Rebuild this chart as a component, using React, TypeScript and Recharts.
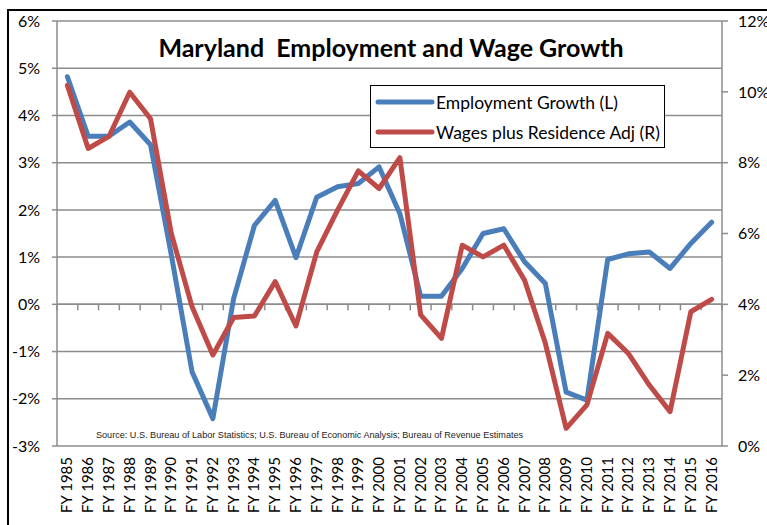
import React from 'react';
import { LineChart, Line, XAxis, YAxis, CartesianGrid, ReferenceLine, Legend } from 'recharts';

const years = [
  'FY 1985', 'FY 1986', 'FY 1987', 'FY 1988', 'FY 1989', 'FY 1990', 'FY 1991', 'FY 1992',
  'FY 1993', 'FY 1994', 'FY 1995', 'FY 1996', 'FY 1997', 'FY 1998', 'FY 1999', 'FY 2000',
  'FY 2001', 'FY 2002', 'FY 2003', 'FY 2004', 'FY 2005', 'FY 2006', 'FY 2007', 'FY 2008',
  'FY 2009', 'FY 2010', 'FY 2011', 'FY 2012', 'FY 2013', 'FY 2014', 'FY 2015', 'FY 2016',
];

const employmentGrowth = [
  4.82, 3.56, 3.56, 3.86, 3.38, 1.05, -1.43, -2.42,
  0.12, 1.67, 2.2, 0.99, 2.27, 2.49, 2.56, 2.91,
  1.92, 0.17, 0.17, 0.76, 1.5, 1.6, 0.9, 0.44,
  -1.86, -2.03, 0.95, 1.07, 1.11, 0.76, 1.29, 1.74,
];

const wagesResidenceAdj = [
  10.18, 8.4, 8.74, 9.99, 9.24, 6.0, 3.93, 2.57,
  3.63, 3.67, 4.64, 3.39, 5.48, 6.66, 7.77, 7.27,
  8.14, 3.7, 3.04, 5.67, 5.34, 5.67, 4.68, 2.9,
  0.5, 1.16, 3.18, 2.61, 1.72, 0.97, 3.79, 4.14,
];

const leftTicks = [-3, -2, -1, 0, 1, 2, 3, 4, 5, 6];
const rightTicks = [0, 2, 4, 6, 8, 10, 12];

const seriesNames = ['Employment Growth (L)', 'Wages plus Residence Adj (R)'];
const titleText = 'Maryland  Employment and Wage Growth';
const sourceText = 'Source: U.S. Bureau of Labor Statistics; U.S. Bureau of Economic Analysis; Bureau of Revenue Estimates';

const data = years.map((y, i) => ({
  year: y,
  emp: employmentGrowth[i],
  wage: wagesResidenceAdj[i],
}));

const FONT = 'Lato, "Open Sans", sans-serif';
const GRID = '#8c8c8c';
const BLUE = '#4a7ebb';
const RED = '#be4b48';

function XTick(props: any) {
  const { x, y, payload } = props;
  const cx = x - 1;
  return (
    <text
      x={cx}
      y={y}
      transform={`rotate(-90 ${cx} ${y})`}
      textAnchor="end"
      dominantBaseline="central"
      fontFamily={FONT}
      fontSize={15}
      fill="#000"
    >
      {payload.value}
    </text>
  );
}

function ZeroLine(props: any) {
  const { x1, y1, x2 } = props;
  const left = Math.min(x1, x2);
  const right = Math.max(x1, x2);
  const n = years.length;
  const step = (right - left) / n;
  const marks = [];
  for (let i = 0; i <= n; i++) {
    const x = left + i * step;
    marks.push(<line key={i} x1={x} x2={x} y1={y1} y2={y1 + 6} stroke={GRID} strokeWidth={1.5} />);
  }
  return (
    <g>
      <line x1={left} y1={y1} x2={right} y2={y1} stroke={GRID} strokeWidth={1.5} />
      {marks}
    </g>
  );
}

function LegendBox(props: any) {
  const colors = [BLUE, RED];
  return (
    <div
      style={{
        boxSizing: 'border-box',
        width: 295,
        height: 63,
        border: '1.5px solid #000',
        background: '#fff',
        paddingTop: 1,
        fontFamily: FONT,
        fontSize: 17.5,
        color: '#000',
      }}
    >
      {seriesNames.map((name, i) => (
        <div key={name} style={{ display: 'flex', alignItems: 'center', height: 30 }}>
          <svg width={65} height={10} style={{ flex: 'none' }}>
            <line x1={7} y1={5} x2={61} y2={5} stroke={colors[i]} strokeWidth={5} strokeLinecap="round" />
          </svg>
          <span style={{ whiteSpace: 'nowrap' }}>{name}</span>
        </div>
      ))}
    </div>
  );
}

export default function App() {
  return (
    <div style={{ position: 'fixed', left: 0, top: 0, width: 767, height: 525, overflow: 'hidden', background: '#fff' }}>
      <div
        style={{
          position: 'absolute',
          left: 7,
          top: 9,
          width: 820,
          height: 600,
          border: '2.5px solid #000',
          boxSizing: 'border-box',
        }}
      />
      <div style={{ position: 'absolute', left: 0, top: 0 }}>
        <LineChart width={800} height={560} data={data} margin={{ top: 21, right: 0, bottom: 0, left: 0 }}>
          <CartesianGrid yAxisId="left" vertical={false} stroke={GRID} strokeWidth={1.5} />
          <XAxis
            dataKey="year"
            height={114}
            axisLine={false}
            tickLine={false}
            tickSize={6}
            tickMargin={5}
            interval={0}
            padding={{ left: 10.39, right: 10.39 }}
            tick={<XTick />}
          />
          <YAxis
            yAxisId="left"
            orientation="left"
            width={57}
            domain={[-3, 6]}
            ticks={leftTicks}
            interval={0}
            tickFormatter={(v: number) => `${v}%`}
            axisLine={{ stroke: GRID, strokeWidth: 1.5 }}
            tickLine={{ stroke: GRID, strokeWidth: 1.5 }}
            tickSize={5}
            tickMargin={12}
            tick={{ fill: '#000', fontSize: 16, fontFamily: FONT }}
          />
          <YAxis
            yAxisId="right"
            orientation="right"
            width={78}
            domain={[0, 12]}
            ticks={rightTicks}
            interval={0}
            tickFormatter={(v: number) => `${v}%`}
            axisLine={{ stroke: GRID, strokeWidth: 1.5 }}
            tickLine={{ stroke: GRID, strokeWidth: 1.5 }}
            tickSize={6}
            tickMargin={10}
            tick={{ fill: '#000', fontSize: 16, fontFamily: FONT }}
          />
          <ReferenceLine yAxisId="left" y={0} shape={<ZeroLine />} />
          <Legend layout="horizontal" verticalAlign="middle" align="center" wrapperStyle={{ position: 'absolute', left: 370, top: 85, width: 295, height: 63 }} content={<LegendBox />} />
          <Line
            yAxisId="left"
            dataKey="emp"
            name={seriesNames[0]}
            stroke={BLUE}
            strokeWidth={5}
            strokeLinecap="round"
            strokeLinejoin="round"
            dot={false}
            activeDot={false}
            isAnimationActive={false}
          />
          <Line
            yAxisId="right"
            dataKey="wage"
            name={seriesNames[1]}
            stroke={RED}
            strokeWidth={5}
            strokeLinecap="round"
            strokeLinejoin="round"
            dot={false}
            activeDot={false}
            isAnimationActive={false}
          />
        </LineChart>
      </div>
      <div
        style={{
          position: 'absolute',
          left: 0,
          width: 767,
          top: 32,
          textAlign: 'center',
          fontFamily: FONT,
          fontWeight: 'bold',
          fontSize: 25,
          color: '#000',
          whiteSpace: 'pre',
          lineHeight: '30px',
          paddingLeft: 15,
          boxSizing: 'border-box',
        }}
      >
        {titleText}
      </div>
      <div
        style={{
          position: 'absolute',
          left: 96,
          top: 429,
          fontFamily: '"Liberation Sans", Arial, sans-serif',
          fontSize: 9.1,
          color: '#222',
          whiteSpace: 'nowrap',
          lineHeight: '12px',
        }}
      >
        {sourceText}
      </div>
    </div>
  );
}
